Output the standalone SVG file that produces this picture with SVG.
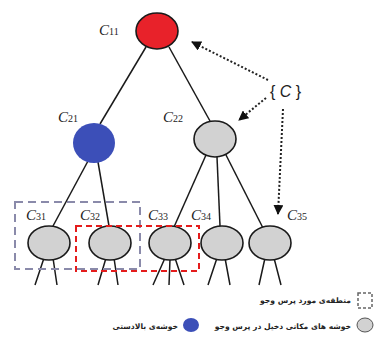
<svg xmlns="http://www.w3.org/2000/svg" width="377" height="345" viewBox="0 0 377 345">
<defs>
<style>
.edge{stroke:#1a1a1a;stroke-width:1.5;fill:none}
.dot{stroke:#222;stroke-width:2;stroke-dasharray:2 2;fill:none}
.node{stroke:#1a1a1a;stroke-width:1.6}
.gray{fill:#d2d2d2}
.lbl{font-family:"Liberation Serif",serif;font-style:italic;font-size:15px;fill:#222}
.sub{font-style:normal;font-size:10px}
.leg{font-family:"DejaVu Sans",sans-serif;font-size:7.6px;font-weight:bold;fill:#222}
</style>
<marker id="ah" viewBox="0 0 10 10" refX="9" refY="5" markerWidth="5" markerHeight="5" orient="auto">
<path d="M0,0 L10,5 L0,10 z" fill="#111"/>
</marker>
</defs>
<rect width="377" height="345" fill="#fff"/>
<g id="connectors">
<line class="edge" x1="146" y1="47" x2="100" y2="124"/>
<line class="edge" x1="169" y1="47" x2="210" y2="121"/>
<line class="edge" x1="88" y1="161" x2="53" y2="226"/>
<line class="edge" x1="98" y1="162" x2="109" y2="226"/>
<line class="edge" x1="206" y1="155" x2="174" y2="227"/>
<line class="edge" x1="217" y1="157" x2="220" y2="226"/>
<line class="edge" x1="226" y1="155" x2="263" y2="228"/>
<path class="edge" d="M44,258 L35,285 M53,258 L57,285 M106,258 L98,285 M114,258 L118,285 M165,258 L153,285 M170,259 L169,285 M175,258 L184,285 M217,258 L208,285 M225,258 L230,285 M265,258 L259,285 M274,258 L281,285"/>
<line class="dot" x1="268" y1="80" x2="192" y2="42" marker-end="url(#ah)"/>
<line class="dot" x1="266" y1="98" x2="239" y2="120" marker-end="url(#ah)"/>
<line class="dot" x1="283" y1="109" x2="278" y2="214" marker-end="url(#ah)"/>
</g>
<g id="C11"><ellipse class="node" cx="157" cy="31" rx="21" ry="18" fill="#e8222a"/><text class="lbl" x="99" y="35">C<tspan class="sub">11</tspan></text></g>
<g id="C21"><ellipse cx="94" cy="143" rx="21" ry="20" fill="#3c4fb8"/><text class="lbl" x="58" y="122">C<tspan class="sub">21</tspan></text></g>
<g id="C22"><ellipse class="node gray" cx="215" cy="139" rx="21" ry="18"/><text class="lbl" x="163" y="122">C<tspan class="sub">22</tspan></text></g>
<g id="C31"><ellipse class="node gray" cx="49" cy="243" rx="21" ry="17"/><text class="lbl" x="26" y="220">C<tspan class="sub">31</tspan></text></g>
<g id="C32"><ellipse class="node gray" cx="110" cy="243" rx="21" ry="17"/><text class="lbl" x="80" y="220">C<tspan class="sub">32</tspan></text></g>
<g id="C33"><ellipse class="node gray" cx="170" cy="243" rx="21" ry="17"/><text class="lbl" x="148" y="220">C<tspan class="sub">33</tspan></text></g>
<g id="C34"><ellipse class="node gray" cx="222" cy="243" rx="21" ry="17"/><text class="lbl" x="191" y="220">C<tspan class="sub">34</tspan></text></g>
<g id="C35"><ellipse class="node gray" cx="270" cy="243" rx="21" ry="17"/><text class="lbl" x="287" y="220">C<tspan class="sub">35</tspan></text></g>
<g id="setC"><text x="270" y="97" font-family="Liberation Sans,sans-serif" font-size="16" fill="#222">{ <tspan font-style="italic">C</tspan> }</text></g>
<g id="regions">
<rect x="15" y="202" width="125" height="67" fill="none" stroke="#8a8aaa" stroke-width="2" stroke-dasharray="8 5"/>
<rect x="76" y="226" width="123" height="45" fill="none" stroke="#e41c1c" stroke-width="2" stroke-dasharray="6 4"/>
</g>
<g id="legend">
<rect x="358" y="293" width="14" height="15" fill="none" stroke="#666" stroke-width="1.5" stroke-dasharray="3 2"/>
<text class="leg" x="351" y="303" direction="rtl">منطقه‌ی مورد پرس وجو</text>
<ellipse cx="365" cy="325" rx="8" ry="7" fill="#d2d2d2" stroke="#555" stroke-width="1"/>
<text class="leg" x="351" y="329" direction="rtl">خوشه های مکانی دخیل در پرس وجو</text>
<ellipse cx="191" cy="325" rx="8" ry="7" fill="#3c4fb8"/>
<text class="leg" x="178" y="329" direction="rtl">خوشه‌ی بالادستی</text>
</g>
</svg>
